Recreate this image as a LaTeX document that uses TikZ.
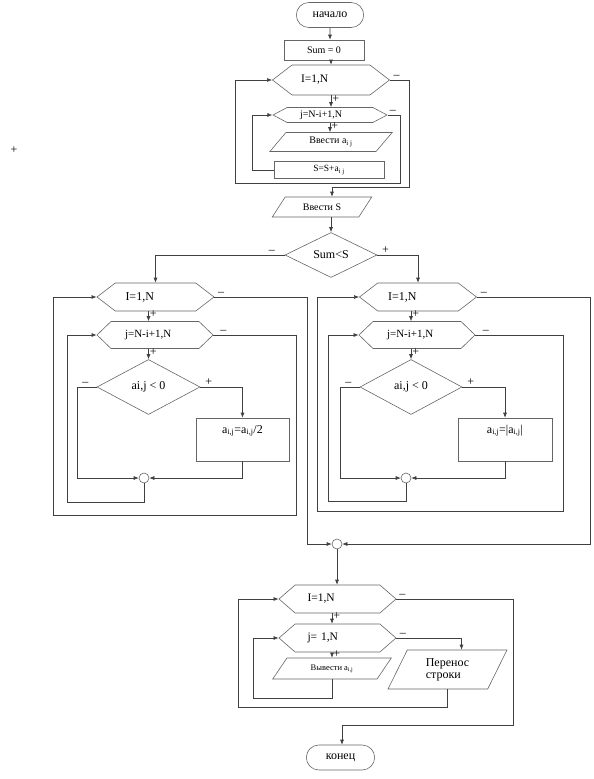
\documentclass[tikz,border=0pt]{standalone}
\usepackage{fontspec}
\setmainfont{Liberation Serif}
\usetikzlibrary{arrows.meta, shapes.geometric, shapes.misc, shapes.symbols}
\newcommand{\fs}[1]{\fontsize{#1}{#1}\selectfont}
\tikzset{every picture/.style={x=1pt, y=-1pt, line width=0.6pt},
  arr/.style={draw=black!75, -{Latex[length=5pt,width=4pt]}},
  sign/.style={font=\fs{12}, inner sep=1pt},
  term/.style={rounded rectangle, draw=black!60, minimum width=74pt, minimum height=25pt, font=\fs{12}},
  proc/.style={rectangle, draw=black!60, font=\fs{10}},
  io/.style={trapezium, trapezium left angle=55, trapezium right angle=125, trapezium stretches=true, draw=black!60, inner sep=1pt, font=\fs{10}},
  hexa/.style={signal, signal to=east and west, signal pointer angle=75, draw=black!60, minimum width=117pt, minimum height=28pt, inner sep=1pt, text width=60pt, align=left, font=\fs{11.5}},
  cond/.style={diamond, draw=black!60, inner sep=0pt, font=\fs{12}},
  joint/.style={circle, draw=black!60, minimum size=10pt, inner sep=0pt}}

\begin{document}
\begin{tikzpicture}
        \useasboundingbox (0,0) rectangle (594,779);
        % Define the positions of the nodes
        \node[term] (start) at (330,15) {начало};
        \node[proc, minimum width=80pt, minimum height=20pt] (sum0) at (324,50) {Sum = 0};
        \node[hexa, minimum height=30pt] (hexI1) at (331,80) {I=1,N};
        \node[hexa, minimum width=114pt, minimum height=15pt, signal pointer angle=56, font=\fs{10}] (hexJ1) at (330,115) {j=N-i+1,N};
        \node[io, minimum width=123pt, minimum height=19pt] (inA) at (331,142) {Ввести a\textsubscript{i j}};
        \node[proc, minimum width=110pt, minimum height=17pt, font=\fs{9.5}] (sumA) at (329,170) {S=S+a\textsubscript{i j}};
        \node[io, minimum width=100pt, minimum height=20pt, trapezium left angle=51, trapezium right angle=129] (inS) at (322,207) {Ввести S};
        \node[cond, minimum width=92pt, minimum height=45pt] (test) at (331,255) {Sum<S};
        \node[sign] (stray) at (14,150) {+};

        % left branch
        \node[hexa, font=\fs{12}] (hexIL) at (155.5,297) {I=1,N};
        \node[hexa, minimum width=116pt, minimum height=27pt, signal pointer angle=88, font=\fs{11}] (hexJL) at (155,335) {j=N-i+1,N};
        \node[cond, minimum width=103pt, minimum height=55pt] (diaL) at (148.5,387) {ai,j < 0};
        \node[proc, minimum width=93pt, text height=9pt, text depth=22pt, inner ysep=6pt, font=\fs{12}] (halfL) at (242.5,439.5) {a\textsubscript{i,j}=a\textsubscript{i,j}/2};
        \node[joint] (jL) at (144,478) {};

        % right branch
        \node[hexa, font=\fs{12}] (hexIR) at (418,297) {I=1,N};
        \node[hexa, minimum width=116pt, minimum height=27pt, signal pointer angle=88, font=\fs{11}] (hexJR) at (417,335) {j=N-i+1,N};
        \node[cond, minimum width=102pt, minimum height=55pt] (diaR) at (411,387) {ai,j < 0};
        \node[proc, minimum width=94pt, text height=9pt, text depth=22pt, inner ysep=6pt, font=\fs{12}] (absR) at (505,439.5) {a\textsubscript{i,j}=|a\textsubscript{i,j}|};
        \node[joint] (jR) at (406,478) {};
        \node[joint] (merge) at (337,544) {};

        % output part
        \node[hexa, signal pointer angle=82] (hexI3) at (337.5,599) {I=1,N};
        \node[hexa, signal pointer angle=82] (hexJ3) at (337.5,638) {j= 1,N};
        \node[io, minimum width=119pt, minimum height=21pt, font=\fs{8.5}] (outW) at (332,668.5) {Вывести a\textsubscript{i,j}};
        \node[io, minimum width=119pt, minimum height=39pt, trapezium left angle=66, trapezium right angle=114, align=left, font=\fs{12}] (newl) at (447.5,669.5) {Перенос\\строки};
        \node[term, minimum width=75pt] (stop) at (340.5,757.5) {конец};

        \coordinate (backA) at (235,183);
        \coordinate (outA) at (332,187);
        \coordinate (loopL) at (67,502);
        \coordinate (frameL) at (296,515);
        \coordinate (frameL2) at (53,515);
        \coordinate (loopR) at (328,501);
        \coordinate (frameR) at (563,511);
        \coordinate (frameR2) at (317,511);
        \coordinate (loopB) at (253,698);
        \coordinate (frameB) at (238,707);
        \coordinate (outB) at (342,725);

        % Draw the edges
        \draw[arr] (start) -- (start |- sum0.north);
        \draw[arr] (sum0.south -| hexI1) -- (hexI1.north);
        \draw[arr] (hexI1.south) -- node[sign, right, pos=0.3] {+} (hexI1.south |- hexJ1.north);
        \draw[arr] (hexJ1.south) -- node[sign, right, pos=0.3] {+} (hexJ1.south |- inA.north);
        \draw[arr] (sumA.west) -- ++(-21,0) |- (hexJ1.west);
        \draw[arr] (hexJ1.east) -- node[sign, above, pos=0.4] {–} ++(13,0) |- (backA) |- (hexI1.west);
        \draw[arr] (hexI1.east) -- node[sign, above, pos=0.35] {–} ++(19,0) |- (outA) -- (outA |- inS.north);
        \draw[arr] (inS.south -| test) -- (test.north);
        \draw[arr] (test.west) -| node[sign, above, pos=0.05] {–} (hexIL.north);
        \draw[arr] (test.east) -| node[sign, above, pos=0.1] {+} (hexIR.north);

        \foreach \I/\J/\D/\B/\C/\Lp/\Fr/\Fs in {hexIL/hexJL/diaL/halfL/jL/loopL/frameL/frameL2,
          hexIR/hexJR/diaR/absR/jR/loopR/frameR/frameR2} {
          \draw[arr] (\I.south -| \D) -- node[sign, right, pos=0.3] {+} (\J.north -| \D);
          \draw[arr] (\J.south -| \D) -- node[sign, right, pos=0.3] {+} (\D.north);
          \draw[arr] (\D.west) -- node[sign, above, pos=0.6] {–} ++(-19,0) |- (\C.west);
          \draw[arr] (\D.east) -| node[sign, above, pos=0.1] {+} (\B.north);
          \draw[arr] (\B.south) |- (\C.east);
          \draw[arr] (\C.south) |- (\Lp) |- (\J.west);
          \draw[arr] (\J.east) -- node[sign, above, pos=0.12] {–} (\J.east -| \Fr) -- (\Fr) -- (\Fs) |- (\I.west);
        }
        \draw[arr] (hexIL.east) -- node[sign, above, pos=0.07] {–} ++(93,0) |- (merge.west);
        \draw[arr] (hexIR.east) -- node[sign, above, pos=0.06] {–} ++(113,0) |- (merge.east);
        \draw[arr] (merge.south) -- (merge.south |- hexI3.north);

        \draw[arr] (hexI3.south -| outW) -- node[sign, right, pos=0.3] {+} (hexJ3.north -| outW);
        \draw[arr] (hexJ3.south -| outW) -- node[sign, right, pos=0.3] {+} (outW.north);
        \draw[arr] (outW.south) |- (loopB) |- (hexJ3.west);
        \draw[arr] (hexJ3.east) -| node[sign, above, pos=0.05] {–} ([xshift=14pt]newl.north);
        \draw[arr] (newl.south) |- (frameB) |- (hexI3.west);
        \draw[arr] (hexI3.east) -- node[sign, above, pos=0.05] {–} ++(117,0) |- (outB) -- (outB |- stop.north);
    \end{tikzpicture}
\end{document}
